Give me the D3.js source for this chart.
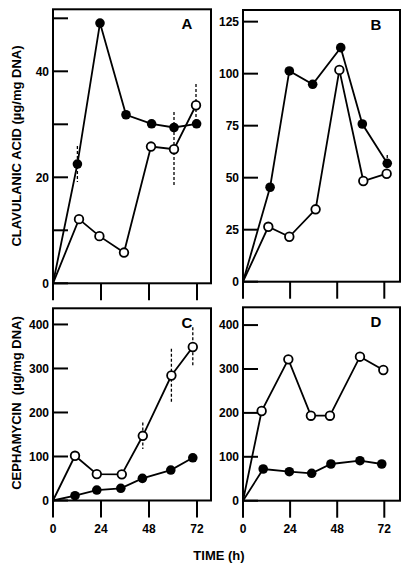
<!DOCTYPE html>
<html>
<head>
<meta charset="utf-8">
<script src="https://cdn.jsdelivr.net/npm/d3@7"></script>
<style>
  html, body { margin: 0; padding: 0; background: #fff; }
  svg { display: block; }
  text { font-family: "Liberation Sans", Arial, Helvetica, sans-serif; font-weight: bold; fill: #000; }
</style>
</head>
<body>
<script>
// ---------- DATA ----------
// Panel A : clavulanic acid (µg/mg DNA)
const timeA_filled = [0, 12.2, 23.5, 36.5, 49.3, 60.5, 71.8];
const clavA_filled = [0, 22.5, 49.1, 31.8, 30.1, 29.4, 30.1];
const errA_filled  = [0, 3.4, 0, 0, 0, 0, 0];
const timeA_open   = [0, 13, 23.2, 35.5, 49, 60.5, 71.5];
const clavA_open   = [0, 12.1, 8.9, 5.8, 25.8, 25.3, 33.6];
const errA_open    = [0, 0, 0, 0, 0, 7, 4];

// Panel B : clavulanic acid (µg/mg DNA)
const timeB_filled = [0, 13.8, 23.6, 35.5, 49.8, 60.8, 73.5];
const clavB_filled = [0, 45.4, 101.3, 94.9, 112.5, 75.8, 56.9];
const errB_filled  = [0, 0, 0, 0, 0, 0, 4];
const timeB_open   = [0, 12.9, 23.6, 37, 49.1, 61.3, 73.2];
const clavB_open   = [0, 26.4, 21.6, 34.8, 101.8, 48.4, 51.9];
const errB_open    = [0, 0, 0, 0, 0, 0, 0];

// Panel C : cephamycin (µg/mg DNA)
const timeC_filled = [0, 11, 21.9, 33.9, 44.7, 58.9, 69.9];
const cephC_filled = [0, 10.9, 23.8, 27.7, 50.3, 69.2, 97];
const errC_filled  = [0, 0, 0, 0, 0, 0, 0];
const timeC_open   = [0, 11, 21.9, 34.4, 44.9, 59.2, 69.9];
const cephC_open   = [0, 101.6, 60, 59.4, 147, 284, 348.8];
const errC_open    = [0, 0, 0, 0, 30, 61, 45];

// Panel D : cephamycin (µg/mg DNA)
const timeD_filled = [0, 10.3, 23.6, 35, 44.8, 59.6, 70.7];
const cephD_filled = [0, 72.2, 66, 62.4, 83.6, 91.1, 83.6];
const errD_filled  = [0, 0, 0, 0, 0, 0, 0];
const timeD_open   = [0, 9.5, 23.1, 34.6, 44.3, 59.6, 71.5];
const cephD_open   = [0, 204.3, 322, 193.6, 193.6, 328, 297.7];
const errD_open    = [0, 0, 0, 0, 0, 0, 0];

// Tick values / labels
const timeTicks      = [0, 24, 48, 72];
const yTicksA        = [0, 10, 20, 30, 40, 50];
const yTickLabelsA   = [0, 20, 40];
const yTicksB        = [0, 25, 50, 75, 100, 125];
const yTicksCD       = [0, 100, 200, 300, 400];
const panelLetters   = ["A", "B", "C", "D"];
const yTitleTop      = "CLAVULANIC ACID (\u00b5g/mg DNA)";
const yTitleBottom   = "CEPHAMYCIN  (\u00b5g/mg DNA)";
const xTitle         = "TIME (h)";

// ---------- LAYOUT ----------
const W = 414, H = 567;
const svg = d3.select("body").append("svg").attr("width", W).attr("height", H);

const zip = (t, v, e) => t.map((d, i) => ({ t: d, v: v[i], e: e[i] }));

const panels = [
  { letter: panelLetters[0], box: [53, 9.3, 211, 283.3], xMax: 79, yMax: 51.7,
    yTicks: yTicksA, yLabels: yTickLabelsA, xLabels: false,
    filled: zip(timeA_filled, clavA_filled, errA_filled), open: zip(timeA_open, clavA_open, errA_open) },
  { letter: panelLetters[1], box: [243, 10, 400, 281.7], xMax: 80, yMax: 130.6,
    yTicks: yTicksB, yLabels: yTicksB, xLabels: false,
    filled: zip(timeB_filled, clavB_filled, errB_filled), open: zip(timeB_open, clavB_open, errB_open) },
  { letter: panelLetters[2], box: [53, 308.3, 211, 500.5], xMax: 79, yMax: 436.7,
    yTicks: yTicksCD, yLabels: yTicksCD, xLabels: true,
    filled: zip(timeC_filled, cephC_filled, errC_filled), open: zip(timeC_open, cephC_open, errC_open) },
  { letter: panelLetters[3], box: [243, 307.3, 400, 500.7], xMax: 80, yMax: 440.5,
    yTicks: yTicksCD, yLabels: yTicksCD, xLabels: true,
    filled: zip(timeD_filled, cephD_filled, errD_filled), open: zip(timeD_open, cephD_open, errD_open) }
];

const TICK = 15, XTICK = 17;

panels.forEach(p => {
  const [x0, y0, x1, y1] = p.box;
  const x = d3.scaleLinear().domain([0, p.xMax]).range([x0, x1]);
  const y = d3.scaleLinear().domain([0, p.yMax]).range([y1, y0]);
  const g = svg.append("g");

  // frame
  g.append("rect").attr("x", x0).attr("y", y0).attr("width", x1 - x0).attr("height", y1 - y0)
    .attr("fill", "none").attr("stroke", "#000").attr("stroke-width", 2);

  // y ticks (inward)
  g.selectAll(".yt").data(p.yTicks).enter().append("line")
    .attr("x1", x0).attr("x2", x0 + TICK)
    .attr("y1", d => y(d)).attr("y2", d => y(d))
    .attr("stroke", "#000").attr("stroke-width", 2);
  g.selectAll(".yl").data(p.yLabels).enter().append("text")
    .attr("x", x0 - 4).attr("y", d => y(d)).attr("dy", "0.36em")
    .attr("text-anchor", "end").attr("font-size", 12).text(d => d);

  // x ticks (outward, below)
  g.selectAll(".xt").data(timeTicks).enter().append("line")
    .attr("x1", d => x(d)).attr("x2", d => x(d))
    .attr("y1", y1).attr("y2", y1 + XTICK)
    .attr("stroke", "#000").attr("stroke-width", 2);
  if (p.xLabels) {
    g.selectAll(".xl").data(timeTicks).enter().append("text")
      .attr("x", d => x(d)).attr("y", y1 + 32)
      .attr("text-anchor", "middle").attr("font-size", 12).text(d => d);
  }

  // panel letter
  g.append("text").attr("x", x1 - 24).attr("y", y0 + 20)
    .attr("text-anchor", "middle").attr("font-size", 15).text(p.letter);

  const line = d3.line().x(d => x(d.t)).y(d => y(d.v));
  [p.filled, p.open].forEach(s => {
    g.append("path").attr("d", line(s)).attr("fill", "none")
      .attr("stroke", "#000").attr("stroke-width", 1.8).attr("stroke-linejoin", "miter");
  });

  // error bars (dashed)
  [p.filled, p.open].forEach(s => {
    g.selectAll(null).data(s.filter(d => d.e > 0)).enter().append("line")
      .attr("x1", d => x(d.t)).attr("x2", d => x(d.t))
      .attr("y1", d => y(d.v + d.e)).attr("y2", d => y(d.v - d.e))
      .attr("stroke", "#000").attr("stroke-width", 1.3).attr("stroke-dasharray", "3,2");
  });

  // markers
  g.selectAll(null).data(p.open.slice(1)).enter().append("circle")
    .attr("cx", d => x(d.t)).attr("cy", d => y(d.v)).attr("r", 4.3)
    .attr("fill", "#fff").attr("stroke", "#000").attr("stroke-width", 1.8);
  g.selectAll(null).data(p.filled.slice(1)).enter().append("circle")
    .attr("cx", d => x(d.t)).attr("cy", d => y(d.v)).attr("r", 4.8)
    .attr("fill", "#000");
});

// axis titles
svg.append("text").attr("transform", "translate(21,146) rotate(-90)")
  .attr("text-anchor", "middle").attr("font-size", 13).text(yTitleTop);
svg.append("text").attr("transform", "translate(21,403) rotate(-90)")
  .attr("text-anchor", "middle").attr("font-size", 13).attr("xml:space", "preserve")
  .style("white-space", "pre").text(yTitleBottom);
svg.append("text").attr("x", 219).attr("y", 560)
  .attr("text-anchor", "middle").attr("font-size", 13).text(xTitle);
</script>
</body>
</html>
